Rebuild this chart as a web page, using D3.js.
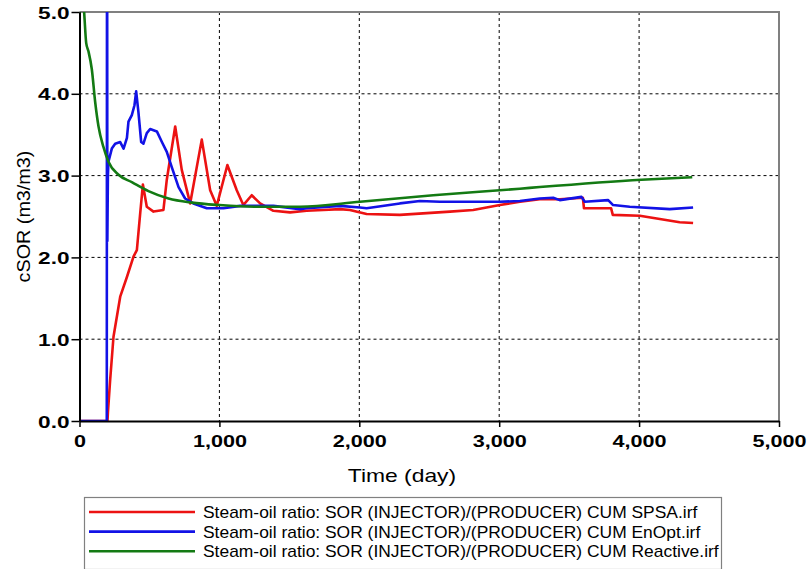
<html>
  <head>
    <style>
      body {
        margin: 0;
        background: #ffffff;
        font-family: Arial, "Liberation Sans", Helvetica, sans-serif;
      }
      svg {
        display: block;
      }
      .tick-label {
        font-size: 17px;
        font-weight: bold;
        fill: #000000;
      }
      .axis-title {
        font-size: 18px;
        fill: #000000;
      }
      .legend-text {
        font-size: 16px;
        fill: #000000;
      }
      .grid line {
        stroke: #000000;
        stroke-width: 1;
        stroke-dasharray: 3, 3;
      }
    </style>
  </head>
  <body>
    <script src="https://d3js.org/d3.v7.min.js"></script>
    <script>
      // SPSA run (red)
      const spsaDays = [0, 200, 203, 219, 243, 291, 339, 386, 410, 434, 453, 481, 529, 600, 624, 684, 731, 791, 874, 934, 981, 1057, 1124, 1171, 1231, 1291, 1386, 1505, 1624, 1743, 1862, 1933, 2052, 2290, 2648, 2814, 3005, 3148, 3290, 3433, 3598, 3606, 3800, 3812, 4005, 4148, 4290, 4386];
      const spsaSOR = [0, 0, 0.1, 0.5, 1.03, 1.52, 1.76, 2.01, 2.09, 2.54, 2.89, 2.62, 2.56, 2.58, 2.95, 3.6, 3.07, 2.66, 3.44, 2.82, 2.63, 3.13, 2.82, 2.64, 2.76, 2.66, 2.57, 2.55, 2.57, 2.58, 2.59, 2.58, 2.53, 2.52, 2.56, 2.58, 2.64, 2.68, 2.71, 2.71, 2.73, 2.6, 2.6, 2.52, 2.51, 2.47, 2.43, 2.42];

      // EnOpt run (blue)
      const enoptDays = [0, 195, 197, 199, 203, 207, 231, 255, 291, 315, 339, 350, 374, 393, 405, 421, 441, 457, 481, 505, 553, 589, 624, 660, 708, 755, 814, 910, 1029, 1148, 1386, 1576, 1624, 1862, 2005, 2052, 2290, 2433, 2576, 3005, 3148, 3290, 3386, 3433, 3588, 3612, 3779, 3814, 3933, 4219, 4386];
      const enoptSOR = [0, 0, 8, 2.2, 3.0, 3.17, 3.33, 3.39, 3.41, 3.33, 3.46, 3.66, 3.74, 3.86, 4.03, 3.78, 3.41, 3.39, 3.52, 3.57, 3.54, 3.41, 3.29, 3.1, 2.86, 2.72, 2.66, 2.6, 2.6, 2.63, 2.63, 2.59, 2.6, 2.63, 2.61, 2.6, 2.66, 2.69, 2.68, 2.68, 2.69, 2.72, 2.73, 2.7, 2.74, 2.68, 2.7, 2.64, 2.62, 2.59, 2.61];

      // Reactive run (green)
      const reactiveDays = [0, 2, 33, 48, 64, 88, 112, 136, 171, 207, 279, 374, 493, 636, 803, 1000, 1250, 1576, 2005, 2528, 3148, 3290, 4017, 4380];
      const reactiveSOR = [0, 5.6, 5.0, 4.62, 4.52, 4.3, 3.9, 3.6, 3.35, 3.17, 3.01, 2.92, 2.81, 2.72, 2.67, 2.64, 2.62, 2.62, 2.68, 2.76, 2.84, 2.86, 2.95, 2.98];

      const xTicks = [0, 1000, 2000, 3000, 4000, 5000];
      const yTicks = [0, 1, 2, 3, 4, 5];
      const legendLabels = [
        "Steam-oil ratio: SOR (INJECTOR)/(PRODUCER) CUM SPSA.irf",
        "Steam-oil ratio: SOR (INJECTOR)/(PRODUCER) CUM EnOpt.irf",
        "Steam-oil ratio: SOR (INJECTOR)/(PRODUCER) CUM Reactive.irf",
      ];

      const series = [
        { days: spsaDays, values: spsaSOR, color: "#ec1212", curve: d3.curveLinear },
        { days: enoptDays, values: enoptSOR, color: "#1212e6", curve: d3.curveLinear },
        { days: reactiveDays, values: reactiveSOR, color: "#137a13", curve: d3.curveMonotoneX },
      ];

      const width = 812,
        height = 569;
      const plotLeft = 79.5,
        plotRight = 779,
        plotTop = 12,
        plotBottom = 421;

      const x = d3.scaleLinear().domain([0, 5000]).range([plotLeft, plotRight]);
      const y = d3.scaleLinear().domain([0, 5]).range([plotBottom, plotTop]);

      const svg = d3
        .select("body")
        .append("svg")
        .attr("width", width)
        .attr("height", height);

      svg.append("rect").attr("width", width).attr("height", height).attr("fill", "#ffffff");

      // dashed grid
      const grid = svg.append("g").attr("class", "grid");
      xTicks.slice(1, -1).forEach((t) => {
        grid.append("line").attr("x1", x(t)).attr("x2", x(t)).attr("y1", plotTop).attr("y2", plotBottom);
      });
      yTicks.slice(1, -1).forEach((t) => {
        grid.append("line").attr("x1", plotLeft).attr("x2", plotRight).attr("y1", y(t)).attr("y2", y(t));
      });

      // grey frame on top / right
      svg
        .append("path")
        .attr("d", `M${plotLeft},${plotTop}H${plotRight}V${plotBottom}`)
        .attr("fill", "none")
        .attr("stroke", "#808080")
        .attr("stroke-width", 2);

      svg
        .append("clipPath")
        .attr("id", "plot-clip")
        .append("rect")
        .attr("x", plotLeft)
        .attr("y", plotTop)
        .attr("width", plotRight - plotLeft)
        .attr("height", plotBottom - plotTop);

      const lines = svg.append("g").attr("clip-path", "url(#plot-clip)");
      series.forEach((s) => {
        const pts = s.days.map((d, i) => [d, s.values[i]]);
        const line = d3
          .line()
          .x((p) => x(p[0]))
          .y((p) => y(p[1]))
          .curve(s.curve);
        lines
          .append("path")
          .attr("d", line(pts))
          .attr("fill", "none")
          .attr("stroke", s.color)
          .attr("stroke-width", 2.6)
          .attr("stroke-linejoin", "round");
      });

      // axes
      const yAxis = svg
        .append("g")
        .attr("transform", `translate(${plotLeft},0)`)
        .call(
          d3.axisLeft(y).tickValues(yTicks).tickSize(8).tickSizeOuter(0).tickFormat(d3.format(".1f"))
        );
      const xAxis = svg
        .append("g")
        .attr("transform", `translate(0,${plotBottom})`)
        .call(d3.axisBottom(x).tickValues(xTicks).tickSize(6).tickSizeOuter(0).tickFormat(d3.format(",")));

      [yAxis, xAxis].forEach((g) => {
        g.attr("font-family", null).attr("font-size", null);
        g.select(".domain").attr("stroke", "#000000").attr("stroke-width", 2);
        g.selectAll(".tick line").attr("stroke", "#000000").attr("stroke-width", 1.5);
        g.selectAll("text").attr("class", "tick-label");
      });

      yAxis
        .selectAll("text")
        .attr("x", 0)
        .attr("dy", "0.36em")
        .attr("transform", "translate(-10,0) scale(1.33,1)");
      xAxis
        .selectAll("text")
        .attr("y", 0)
        .attr("dy", 0)
        .attr("transform", "translate(0,26) scale(1.27,1)");

      svg
        .append("text")
        .attr("class", "axis-title")
        .attr("text-anchor", "middle")
        .attr("transform", "translate(402,482) scale(1.27,1)")
        .text("Time (day)");

      svg
        .append("text")
        .attr("class", "axis-title")
        .attr("text-anchor", "middle")
        .attr("transform", `translate(30,${(plotTop + plotBottom) / 2}) rotate(-90) scale(1.1,1)`)
        .text("cSOR (m3/m3)");

      // legend
      const legend = svg.append("g");
      legend
        .append("rect")
        .attr("x", 84.5)
        .attr("y", 497.5)
        .attr("width", 637)
        .attr("height", 72)
        .attr("fill", "#ffffff")
        .attr("stroke", "#808080")
        .attr("stroke-width", 1.2);

      legendLabels.forEach((label, i) => {
        const ly = 512 + i * 19.6;
        legend
          .append("line")
          .attr("x1", 89)
          .attr("x2", 195)
          .attr("y1", ly)
          .attr("y2", ly)
          .attr("stroke", series[i].color)
          .attr("stroke-width", 2.6);
        legend
          .append("text")
          .attr("class", "legend-text")
          .attr("transform", `translate(203,${ly + 6}) scale(1.09,1)`)
          .text(label);
      });
    </script>
  </body>
</html>
